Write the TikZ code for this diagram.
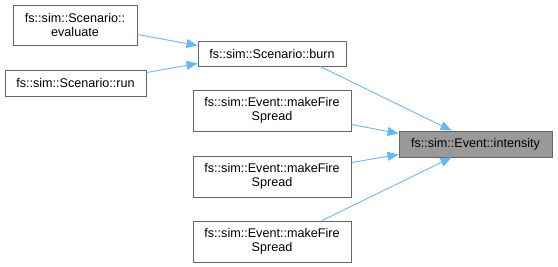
\documentclass[tikz,border=0pt]{standalone}
\usepackage{fontspec}
\setmainfont{Liberation Sans}
\usetikzlibrary{arrows.meta,calc}
\definecolor{edgeblue}{RGB}{99,184,255}
\begin{document}
\begin{tikzpicture}[x=1pt,y=-1pt,
  fn/.style={draw=black!60,fill=white,line width=0.9pt,inner sep=0pt,align=center,
    font=\fontsize{12.6}{14}\selectfont},
  cur/.style={fn,fill=black!40},
  edge/.style={draw=edgeblue,line width=0.9pt,
    -{Triangle[length=11pt,width=9pt,fill=edgeblue]}}]
\useasboundingbox (0,0) rectangle (558,267);
\node[fn,minimum width=124pt,minimum height=40pt] (eval) at (75,25) {fs::sim::Scenario::\\evaluate};
\node[fn,minimum width=141pt,minimum height=26pt] (run) at (75.5,83) {fs::sim::Scenario::run};
\node[fn,minimum width=148pt,minimum height=25pt] (burn) at (272,53.5) {fs::sim::Scenario::burn};
\node[fn,minimum width=158pt,minimum height=41pt] (mk1) at (272,110.5) {fs::sim::Event::makeFire\\Spread};
\node[fn,minimum width=158pt,minimum height=41pt] (mk2) at (272,176.5) {fs::sim::Event::makeFire\\Spread};
\node[fn,minimum width=158pt,minimum height=41pt] (mk3) at (272,241.5) {fs::sim::Event::makeFire\\Spread};
\node[cur,minimum width=153pt,minimum height=26pt] (inten) at (475.5,144) {fs::sim::Event::intensity};
% callers of burn
\draw[edge] ($(eval.south east)+(0,-11)$) -- ($(burn.north west)+(0,5)$);
\draw[edge] ($(run.north east)+(0,3)$) -- ($(burn.south west)+(0,-3)$);
% callers of intensity
\draw[edge] ($(burn.south)+(48,0)$) -- ($(inten.north)+(-24,0)$);
\draw[edge] ($(mk1.south east)+(0,-7)$) -- ($(inten.north west)+(0,3)$);
\draw[edge] ($(mk2.north east)+(0,7)$) -- ($(inten.south west)+(0,-3)$);
\draw[edge] ($(mk3.north)+(50,0)$) -- ($(inten.south)+(-24,0)$);
\end{tikzpicture}
\end{document}
